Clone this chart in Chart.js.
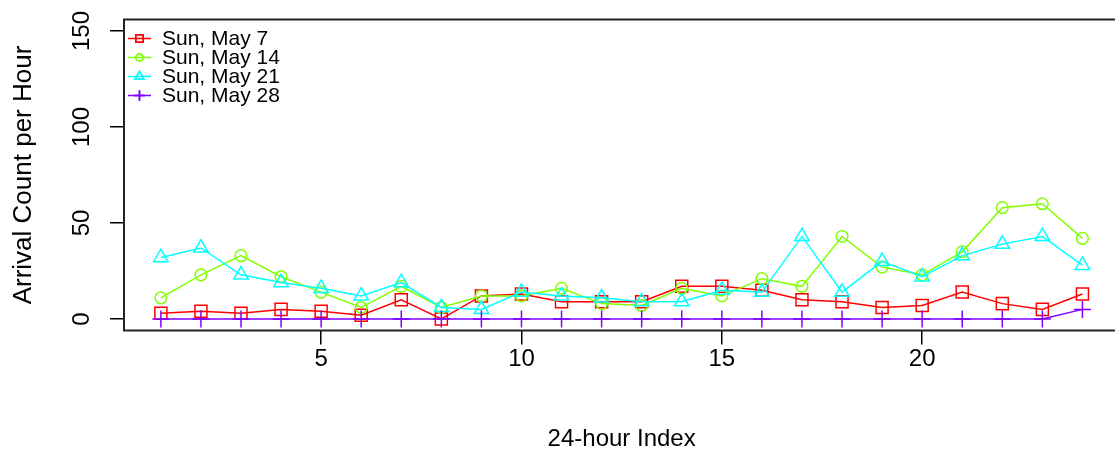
<!DOCTYPE html>
<html>
<head>
<meta charset="utf-8">
<script src="https://cdn.jsdelivr.net/npm/chart.js@4/dist/chart.umd.min.js"></script>
<style>
  html, body { margin: 0; padding: 0; background: #fff; overflow: hidden; }
  canvas { display: block; }
</style>
</head>
<body>
<canvas id="c" width="1120" height="457"></canvas>
<script>
// Hourly arrival counts for four Sundays
const hours = [1, 2, 3, 4, 5, 6, 7, 8, 9, 10, 11, 12, 13, 14, 15, 16, 17, 18, 19, 20, 21, 22, 23, 24];
const may7  = [3, 4, 3, 5, 4, 2, 10, 0, 12, 13, 9, 9, 9, 17, 17, 15, 10, 9, 6, 7, 14, 8, 5, 13];
const may14 = [11, 23, 33, 22, 14, 6, 17, 6, 12, 12, 16, 8, 7, 16, 12, 21, 17, 43, 27, 23, 35, 58, 60, 42];
const may21 = [32, 37, 23, 19, 16, 12, 19, 6, 5, 14, 12, 11, 9, 9, 15, 14, 43, 14, 30, 22, 33, 39, 43, 28];
const may28 = [0, 0, 0, 0, 0, 0, 0, 0, 0, 0, 0, 0, 0, 0, 0, 0, 0, 0, 0, 0, 0, 0, 0, 5];

const seriesLabels = ['Sun, May 7', 'Sun, May 14', 'Sun, May 21', 'Sun, May 28'];
const seriesValues = [may7, may14, may21, may28];
const seriesColors = ['#FF0000', '#80FF00', '#00FFFF', '#8000FF'];
const seriesStyles = ['rect', 'circle', 'triangle', 'cross'];
const seriesRadius = [8.5, 5.8, 8.3, 8.5];

const xTicks = [5, 10, 15, 20];
const yTicks = [0, 50, 100, 150];
const xLimits = [1, 24];
const yLimits = [0, 150];

// pad the axis ranges by 4% on each side
function padded(lim) {
  const d = (lim[1] - lim[0]) * 0.04;
  return [lim[0] - d, lim[1] + d];
}
const xRange = padded(xLimits);
const yRange = padded(yLimits);

Chart.defaults.font.family = "'Liberation Sans', Arial, sans-serif";
Chart.defaults.color = '#000';

const datasets = seriesValues.map((vals, i) => ({
  label: seriesLabels[i],
  data: hours.map((h, k) => ({ x: h, y: vals[k] })),
  borderColor: seriesColors[i],
  backgroundColor: 'rgba(0,0,0,0)',
  pointBackgroundColor: 'rgba(0,0,0,0)',
  pointBorderColor: seriesColors[i],
  pointStyle: seriesStyles[i],
  pointRadius: seriesRadius[i],
  pointBorderWidth: 1.5,
  borderWidth: 1.5,
  tension: 0,
  order: seriesValues.length - i
}));

// keep the plotting region exactly where the layout padding puts it
function noScalePadding(scale) {
  scale.paddingLeft = 0;
  scale.paddingRight = 0;
  scale.paddingTop = 0;
  scale.paddingBottom = 0;
}

// frame around the plotting region
const framePlugin = {
  id: 'frame',
  afterDatasetsDraw(chart) {
    const a = chart.chartArea;
    const ctx = chart.ctx;
    ctx.save();
    ctx.strokeStyle = '#222';
    ctx.lineWidth = 2;
    ctx.strokeRect(a.left, a.top, a.right - a.left, a.bottom - a.top);
    ctx.restore();
  }
};

// legend in the top-left corner: line + symbol + label
const legendPlugin = {
  id: 'cornerLegend',
  afterDatasetsDraw(chart) {
    const ctx = chart.ctx;
    const a = chart.chartArea;
    const x0 = a.left + 4, x1 = a.left + 27, xs = a.left + 15.5, xt = a.left + 38;
    const y0 = a.top + 19, dy = 19;
    ctx.save();
    chart.data.datasets.forEach((ds, i) => {
      const y = y0 + i * dy;
      ctx.strokeStyle = ds.borderColor;
      ctx.lineWidth = 1.5;
      ctx.beginPath();
      ctx.moveTo(x0, y);
      ctx.lineTo(x1, y);
      ctx.stroke();
      ctx.fillStyle = 'rgba(0,0,0,0)';
      Chart.helpers.drawPoint(ctx, {
        pointStyle: ds.pointStyle,
        radius: ds.pointRadius * 0.62,
        borderWidth: 1.5,
        rotation: 0
      }, xs, y);
      ctx.stroke();
      ctx.fillStyle = '#000';
      ctx.font = "21px 'Liberation Sans', Arial, sans-serif";
      ctx.textAlign = 'left';
      ctx.textBaseline = 'middle';
      ctx.fillText(ds.label, xt, y + 1);
    });
    ctx.restore();
  }
};

new Chart(document.getElementById('c'), {
  type: 'line',
  data: { datasets },
  plugins: [framePlugin, legendPlugin],
  options: {
    responsive: false,
    animation: false,
    devicePixelRatio: 1,
    layout: { autoPadding: false, padding: { top: 19.5, right: 0.7, left: 0, bottom: 0 } },
    plugins: { legend: { display: false }, tooltip: { enabled: false } },
    scales: {
      x: {
        type: 'linear',
        min: xRange[0],
        max: xRange[1],
        afterBuildTicks(scale) { scale.ticks = xTicks.map(v => ({ value: v })); },
        afterFit(scale) { scale.height = 126.5; noScalePadding(scale); },
        border: { display: false },
        grid: { drawOnChartArea: false, drawTicks: true, tickLength: 14, color: '#000', lineWidth: 1.5 },
        ticks: { font: { size: 24 }, color: '#000', padding: 0, maxRotation: 0, autoSkip: false },
        title: { display: true, text: '24-hour Index', font: { size: 24 }, color: '#000', padding: { bottom: 3, top: 0 } }
      },
      y: {
        type: 'linear',
        min: yRange[0],
        max: yRange[1],
        afterBuildTicks(scale) { scale.ticks = yTicks.map(v => ({ value: v })); },
        afterFit(scale) { scale.width = 124; noScalePadding(scale); },
        border: { display: false },
        grid: { drawOnChartArea: false, drawTicks: true, tickLength: 14, color: '#000', lineWidth: 1.5 },
        ticks: { font: { size: 24 }, color: '#000', padding: 8, minRotation: 90, maxRotation: 90, crossAlign: 'center', autoSkip: false },
        title: { display: true, text: 'Arrival Count per Hour', font: { size: 26 }, color: '#000', padding: { top: 8, bottom: 0 } }
      }
    }
  }
});
</script>
</body>
</html>
